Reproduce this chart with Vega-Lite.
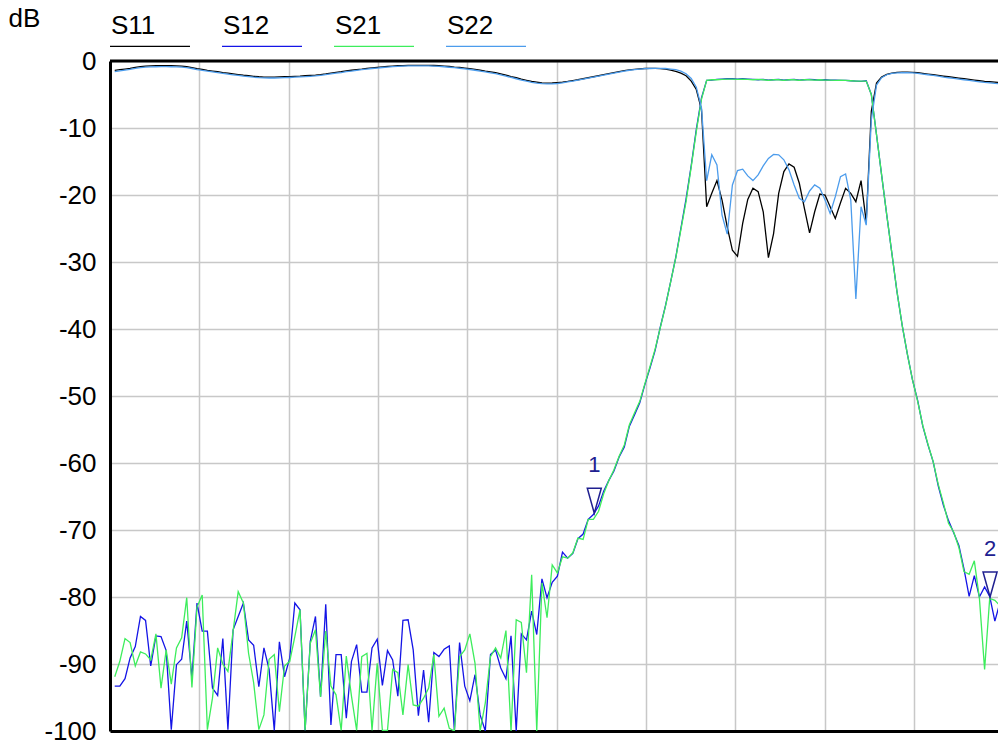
{
"$schema":"https://vega.github.io/schema/vega-lite/v6.json",
"width":888,"height":670,"autosize":{"type":"none"},
"padding":{"left":110,"top":61,"right":0,"bottom":15},
"background":"white",
"config":{"view":{"stroke":null},"font":"Liberation Sans"},
"layer":[
{"data":{"values":[
{"f":0.053,"S11":-1.4,"S12":-93.3,"S21":-91.9,"S22":-1.6},
{"f":0.110,"S11":-1.3,"S12":-93.3,"S21":-89.6,"S22":-1.48},
{"f":0.168,"S11":-1.2,"S12":-92.2,"S21":-86.2,"S22":-1.36},
{"f":0.225,"S11":-1.1,"S12":-89.1,"S21":-86.8,"S22":-1.25},
{"f":0.283,"S11":-0.95,"S12":-87.4,"S21":-90.3,"S22":-1.1},
{"f":0.341,"S11":-0.85,"S12":-82.9,"S21":-88.2,"S22":-1.0},
{"f":0.398,"S11":-0.75,"S12":-83.5,"S21":-88.5,"S22":-0.9},
{"f":0.456,"S11":-0.72,"S12":-90.3,"S21":-89.4,"S22":-0.88},
{"f":0.514,"S11":-0.7,"S12":-85.8,"S21":-85.5,"S22":-0.86},
{"f":0.571,"S11":-0.7,"S12":-85.9,"S21":-93.6,"S22":-0.85},
{"f":0.629,"S11":-0.7,"S12":-88.0,"S21":-87.9,"S22":-0.85},
{"f":0.686,"S11":-0.7,"S12":-99.8,"S21":-93.0,"S22":-0.86},
{"f":0.744,"S11":-0.72,"S12":-90.1,"S21":-87.6,"S22":-0.88},
{"f":0.802,"S11":-0.75,"S12":-89.3,"S21":-86.1,"S22":-0.92},
{"f":0.859,"S11":-0.85,"S12":-83.6,"S21":-80.1,"S22":-1.0},
{"f":0.917,"S11":-1.0,"S12":-92.1,"S21":-93.5,"S22":-1.12},
{"f":0.974,"S11":-1.15,"S12":-80.9,"S21":-81.5,"S22":-1.28},
{"f":1.032,"S11":-1.25,"S12":-85.1,"S21":-79.7,"S22":-1.4},
{"f":1.090,"S11":-1.4,"S12":-85.1,"S21":-99.8,"S22":-1.52},
{"f":1.147,"S11":-1.5,"S12":-93.6,"S21":-95.1,"S22":-1.63},
{"f":1.205,"S11":-1.6,"S12":-94.7,"S21":-87.6,"S22":-1.74},
{"f":1.263,"S11":-1.72,"S12":-86.2,"S21":-90.0,"S22":-1.86},
{"f":1.320,"S11":-1.82,"S12":-99.8,"S21":-91.1,"S22":-1.96},
{"f":1.378,"S11":-1.92,"S12":-84.9,"S21":-85.1,"S22":-2.06},
{"f":1.435,"S11":-2.02,"S12":-82.9,"S21":-79.2,"S22":-2.16},
{"f":1.493,"S11":-2.12,"S12":-80.9,"S21":-80.9,"S22":-2.26},
{"f":1.551,"S11":-2.2,"S12":-86.4,"S21":-88.4,"S22":-2.34},
{"f":1.608,"S11":-2.28,"S12":-87.2,"S21":-92.8,"S22":-2.42},
{"f":1.666,"S11":-2.35,"S12":-93.4,"S21":-99.8,"S22":-2.48},
{"f":1.723,"S11":-2.4,"S12":-87.6,"S21":-97.6,"S22":-2.52},
{"f":1.781,"S11":-2.4,"S12":-90.8,"S21":-89.3,"S22":-2.54},
{"f":1.839,"S11":-2.4,"S12":-99.9,"S21":-88.6,"S22":-2.54},
{"f":1.896,"S11":-2.38,"S12":-86.7,"S21":-97.1,"S22":-2.52},
{"f":1.954,"S11":-2.35,"S12":-91.9,"S21":-90.3,"S22":-2.49},
{"f":2.012,"S11":-2.32,"S12":-89.1,"S21":-89.6,"S22":-2.46},
{"f":2.069,"S11":-2.28,"S12":-80.9,"S21":-85.9,"S22":-2.42},
{"f":2.127,"S11":-2.25,"S12":-81.9,"S21":-81.9,"S22":-2.38},
{"f":2.184,"S11":-2.2,"S12":-99.9,"S21":-99.9,"S22":-2.34},
{"f":2.242,"S11":-2.15,"S12":-86.6,"S21":-86.9,"S22":-2.28},
{"f":2.300,"S11":-2.1,"S12":-82.9,"S21":-84.9,"S22":-2.22},
{"f":2.357,"S11":-2.02,"S12":-94.9,"S21":-94.9,"S22":-2.14},
{"f":2.415,"S11":-1.92,"S12":-81.1,"S21":-85.1,"S22":-2.04},
{"f":2.473,"S11":-1.8,"S12":-99.1,"S21":-93.3,"S22":-1.93},
{"f":2.530,"S11":-1.7,"S12":-88.6,"S21":-94.6,"S22":-1.82},
{"f":2.588,"S11":-1.6,"S12":-88.6,"S21":-99.9,"S22":-1.72},
{"f":2.645,"S11":-1.48,"S12":-98.1,"S21":-88.8,"S22":-1.6},
{"f":2.703,"S11":-1.38,"S12":-89.6,"S21":-94.8,"S22":-1.5},
{"f":2.761,"S11":-1.28,"S12":-87.1,"S21":-99.9,"S22":-1.4},
{"f":2.818,"S11":-1.2,"S12":-94.2,"S21":-88.9,"S22":-1.3},
{"f":2.876,"S11":-1.1,"S12":-94.2,"S21":-88.4,"S22":-1.2},
{"f":2.933,"S11":-1.02,"S12":-87.6,"S21":-99.9,"S22":-1.12},
{"f":2.991,"S11":-0.95,"S12":-86.3,"S21":-89.9,"S22":-1.05},
{"f":3.049,"S11":-0.88,"S12":-93.2,"S21":-99.9,"S22":-0.97},
{"f":3.106,"S11":-0.8,"S12":-88.0,"S21":-99.9,"S22":-0.9},
{"f":3.164,"S11":-0.75,"S12":-89.4,"S21":-90.8,"S22":-0.84},
{"f":3.222,"S11":-0.7,"S12":-94.8,"S21":-91.3,"S22":-0.79},
{"f":3.279,"S11":-0.68,"S12":-83.5,"S21":-97.6,"S22":-0.76},
{"f":3.337,"S11":-0.66,"S12":-83.4,"S21":-90.1,"S22":-0.74},
{"f":3.394,"S11":-0.65,"S12":-87.9,"S21":-96.1,"S22":-0.72},
{"f":3.452,"S11":-0.65,"S12":-97.7,"S21":-96.3,"S22":-0.72},
{"f":3.510,"S11":-0.65,"S12":-90.9,"S21":-95.1,"S22":-0.72},
{"f":3.567,"S11":-0.65,"S12":-98.7,"S21":-93.6,"S22":-0.73},
{"f":3.625,"S11":-0.67,"S12":-88.3,"S21":-88.6,"S22":-0.76},
{"f":3.682,"S11":-0.7,"S12":-88.9,"S21":-97.8,"S22":-0.8},
{"f":3.740,"S11":-0.75,"S12":-87.8,"S21":-96.6,"S22":-0.86},
{"f":3.798,"S11":-0.82,"S12":-87.3,"S21":-99.6,"S22":-0.93},
{"f":3.855,"S11":-0.9,"S12":-100,"S21":-100,"S22":-1.0},
{"f":3.913,"S11":-0.95,"S12":-86.8,"S21":-88.9,"S22":-1.08},
{"f":3.971,"S11":-1.05,"S12":-93.3,"S21":-87.9,"S22":-1.17},
{"f":4.028,"S11":-1.15,"S12":-95.5,"S21":-85.5,"S22":-1.27},
{"f":4.086,"S11":-1.25,"S12":-91.6,"S21":-89.9,"S22":-1.38},
{"f":4.143,"S11":-1.35,"S12":-97.6,"S21":-100,"S22":-1.5},
{"f":4.201,"S11":-1.5,"S12":-100,"S21":-95.8,"S22":-1.63},
{"f":4.259,"S11":-1.62,"S12":-88.6,"S21":-88.9,"S22":-1.76},
{"f":4.316,"S11":-1.75,"S12":-87.9,"S21":-87.6,"S22":-1.9},
{"f":4.374,"S11":-1.92,"S12":-90.6,"S21":-89.1,"S22":-2.06},
{"f":4.432,"S11":-2.12,"S12":-92.2,"S21":-85.0,"S22":-2.26},
{"f":4.489,"S11":-2.32,"S12":-85.8,"S21":-100,"S22":-2.46},
{"f":4.547,"S11":-2.5,"S12":-100,"S21":-83.4,"S22":-2.65},
{"f":4.604,"S11":-2.7,"S12":-85.5,"S21":-83.8,"S22":-2.84},
{"f":4.662,"S11":-2.88,"S12":-86.4,"S21":-91.3,"S22":-3.02},
{"f":4.720,"S11":-3.05,"S12":-82.1,"S21":-76.7,"S22":-3.18},
{"f":4.777,"S11":-3.15,"S12":-85.6,"S21":-100,"S22":-3.3},
{"f":4.835,"S11":-3.25,"S12":-77.3,"S21":-77.9,"S22":-3.38},
{"f":4.892,"S11":-3.3,"S12":-80.1,"S21":-83.1,"S22":-3.42},
{"f":4.950,"S11":-3.28,"S12":-77.8,"S21":-75.2,"S22":-3.42},
{"f":5.008,"S11":-3.22,"S12":-76.9,"S21":-76.4,"S22":-3.36},
{"f":5.065,"S11":-3.15,"S12":-73.3,"S21":-74.0,"S22":-3.25},
{"f":5.123,"S11":-3.05,"S12":-74.2,"S21":-74.2,"S22":-3.12},
{"f":5.181,"S11":-2.92,"S12":-73.5,"S21":-73.4,"S22":-3.0},
{"f":5.238,"S11":-2.8,"S12":-71.3,"S21":-71.2,"S22":-2.85},
{"f":5.296,"S11":-2.65,"S12":-70.6,"S21":-71.4,"S22":-2.7},
{"f":5.353,"S11":-2.5,"S12":-68.4,"S21":-68.4,"S22":-2.55},
{"f":5.411,"S11":-2.35,"S12":-67.7,"S21":-68.4,"S22":-2.4},
{"f":5.469,"S11":-2.2,"S12":-66.4,"S21":-67.2,"S22":-2.25},
{"f":5.526,"S11":-2.05,"S12":-64.2,"S21":-64.6,"S22":-2.1},
{"f":5.584,"S11":-1.9,"S12":-62.6,"S21":-62.6,"S22":-1.95},
{"f":5.641,"S11":-1.75,"S12":-61.2,"S21":-61.0,"S22":-1.8},
{"f":5.699,"S11":-1.6,"S12":-59.1,"S21":-59.0,"S22":-1.65},
{"f":5.757,"S11":-1.45,"S12":-57.6,"S21":-57.3,"S22":-1.5},
{"f":5.814,"S11":-1.32,"S12":-54.5,"S21":-54.3,"S22":-1.38},
{"f":5.872,"S11":-1.25,"S12":-52.8,"S21":-52.5,"S22":-1.28},
{"f":5.930,"S11":-1.18,"S12":-51.0,"S21":-50.8,"S22":-1.2},
{"f":5.987,"S11":-1.12,"S12":-48.3,"S21":-48.2,"S22":-1.15},
{"f":6.045,"S11":-1.1,"S12":-45.8,"S21":-45.6,"S22":-1.12},
{"f":6.102,"S11":-1.1,"S12":-43.2,"S21":-43.0,"S22":-1.1},
{"f":6.160,"S11":-1.15,"S12":-39.7,"S21":-39.8,"S22":-1.1},
{"f":6.218,"S11":-1.22,"S12":-36.5,"S21":-36.6,"S22":-1.12},
{"f":6.275,"S11":-1.35,"S12":-33.0,"S21":-33.0,"S22":-1.2},
{"f":6.333,"S11":-1.55,"S12":-29.3,"S21":-29.4,"S22":-1.3},
{"f":6.390,"S11":-1.8,"S12":-25.0,"S21":-25.2,"S22":-1.5},
{"f":6.448,"S11":-2.2,"S12":-20.6,"S21":-21.0,"S22":-1.9},
{"f":6.506,"S11":-3.0,"S12":-15.6,"S21":-15.8,"S22":-2.6},
{"f":6.563,"S11":-4.25,"S12":-10.2,"S21":-10.5,"S22":-3.9},
{"f":6.621,"S11":-7.25,"S12":-5.5,"S21":-5.7,"S22":-7.0},
{"f":6.679,"S11":-21.75,"S12":-2.9,"S21":-2.9,"S22":-17.85},
{"f":6.736,"S11":-19.75,"S12":-2.85,"S21":-2.8,"S22":-14.0},
{"f":6.794,"S11":-17.85,"S12":-2.75,"S21":-2.8,"S22":-15.5},
{"f":6.851,"S11":-20.75,"S12":-2.7,"S21":-2.75,"S22":-23.0},
{"f":6.909,"S11":-24.75,"S12":-2.65,"S21":-2.7,"S22":-25.85},
{"f":6.967,"S11":-28.25,"S12":-2.65,"S21":-2.7,"S22":-18.5},
{"f":7.024,"S11":-29.15,"S12":-2.7,"S21":-2.75,"S22":-16.35},
{"f":7.082,"S11":-24.25,"S12":-2.65,"S21":-2.7,"S22":-16.15},
{"f":7.139,"S11":-20.65,"S12":-2.7,"S21":-2.75,"S22":-17.15},
{"f":7.197,"S11":-19.0,"S12":-2.75,"S21":-2.8,"S22":-17.85},
{"f":7.255,"S11":-19.5,"S12":-2.8,"S21":-2.75,"S22":-17.0},
{"f":7.312,"S11":-22.5,"S12":-2.75,"S21":-2.8,"S22":-15.65},
{"f":7.370,"S11":-29.35,"S12":-2.85,"S21":-2.9,"S22":-14.55},
{"f":7.428,"S11":-25.75,"S12":-2.8,"S21":-2.8,"S22":-13.95},
{"f":7.485,"S11":-19.75,"S12":-2.75,"S21":-2.8,"S22":-14.0},
{"f":7.543,"S11":-16.5,"S12":-2.85,"S21":-2.9,"S22":-14.75},
{"f":7.600,"S11":-15.35,"S12":-2.8,"S21":-2.8,"S22":-16.25},
{"f":7.658,"S11":-15.85,"S12":-2.75,"S21":-2.8,"S22":-18.5},
{"f":7.716,"S11":-18.25,"S12":-2.85,"S21":-2.9,"S22":-20.5},
{"f":7.773,"S11":-22.0,"S12":-2.8,"S21":-2.8,"S22":-21.0},
{"f":7.831,"S11":-25.65,"S12":-2.75,"S21":-2.8,"S22":-19.4},
{"f":7.888,"S11":-22.5,"S12":-2.8,"S21":-2.85,"S22":-18.5},
{"f":7.946,"S11":-19.85,"S12":-2.85,"S21":-2.8,"S22":-19.0},
{"f":8.004,"S11":-20.0,"S12":-2.8,"S21":-2.85,"S22":-20.75},
{"f":8.061,"S11":-21.75,"S12":-2.85,"S21":-2.85,"S22":-22.75},
{"f":8.119,"S11":-23.5,"S12":-2.85,"S21":-2.9,"S22":-20.25},
{"f":8.177,"S11":-21.15,"S12":-2.9,"S21":-2.85,"S22":-17.25},
{"f":8.234,"S11":-19.0,"S12":-2.9,"S21":-2.9,"S22":-16.85},
{"f":8.292,"S11":-19.75,"S12":-2.95,"S21":-2.95,"S22":-20.75},
{"f":8.349,"S11":-21.0,"S12":-3.0,"S21":-3.0,"S22":-35.5},
{"f":8.407,"S11":-17.85,"S12":-3.05,"S21":-3.0,"S22":-21.75},
{"f":8.465,"S11":-24.0,"S12":-2.95,"S21":-3.0,"S22":-24.5},
{"f":8.522,"S11":-7.5,"S12":-5.0,"S21":-5.0,"S22":-8.75},
{"f":8.580,"S11":-3.3,"S12":-11.0,"S21":-11.0,"S22":-3.6},
{"f":8.637,"S11":-2.4,"S12":-17.0,"S21":-17.0,"S22":-2.5},
{"f":8.695,"S11":-2.0,"S12":-23.0,"S21":-23.0,"S22":-2.05},
{"f":8.753,"S11":-1.8,"S12":-28.8,"S21":-28.8,"S22":-1.85},
{"f":8.810,"S11":-1.7,"S12":-34.5,"S21":-34.5,"S22":-1.78},
{"f":8.868,"S11":-1.68,"S12":-39.5,"S21":-39.5,"S22":-1.75},
{"f":8.926,"S11":-1.68,"S12":-43.8,"S21":-43.8,"S22":-1.75},
{"f":8.983,"S11":-1.7,"S12":-47.6,"S21":-47.6,"S22":-1.78},
{"f":9.041,"S11":-1.75,"S12":-50.7,"S21":-50.8,"S22":-1.85},
{"f":9.098,"S11":-1.85,"S12":-54.5,"S21":-54.4,"S22":-1.95},
{"f":9.156,"S11":-1.95,"S12":-57.3,"S21":-57.2,"S22":-2.05},
{"f":9.214,"S11":-2.05,"S12":-59.8,"S21":-59.8,"S22":-2.15},
{"f":9.271,"S11":-2.15,"S12":-63.4,"S21":-63.2,"S22":-2.27},
{"f":9.329,"S11":-2.25,"S12":-66.3,"S21":-66.0,"S22":-2.4},
{"f":9.386,"S11":-2.35,"S12":-68.6,"S21":-69.0,"S22":-2.5},
{"f":9.444,"S11":-2.45,"S12":-70.4,"S21":-70.3,"S22":-2.6},
{"f":9.502,"S11":-2.55,"S12":-72.3,"S21":-72.6,"S22":-2.7},
{"f":9.559,"S11":-2.65,"S12":-75.8,"S21":-76.2,"S22":-2.8},
{"f":9.617,"S11":-2.75,"S12":-79.9,"S21":-76.6,"S22":-2.9},
{"f":9.675,"S11":-2.85,"S12":-76.8,"S21":-74.6,"S22":-3.0},
{"f":9.732,"S11":-2.95,"S12":-80.0,"S21":-80.2,"S22":-3.1},
{"f":9.790,"S11":-3.05,"S12":-78.5,"S21":-90.8,"S22":-3.2},
{"f":9.847,"S11":-3.1,"S12":-79.9,"S21":-80.2,"S22":-3.28},
{"f":9.905,"S11":-3.15,"S12":-83.6,"S21":-80.5,"S22":-3.35},
{"f":9.963,"S11":-3.2,"S12":-80.8,"S21":-81.3,"S22":-3.4}
]},
"transform":[{"fold":["S11","S12","S21","S22"],"as":["s","db"]}],
"mark":{"type":"line","strokeWidth":1.3,"clip":true},
"encoding":{
"x":{"field":"f","type":"quantitative","scale":{"domain":[0,9.94],"nice":false,"zero":false},
"axis":{"title":null,"labels":false,"ticks":false,"values":[1,2,3,4,5,6,7,8,9],"grid":true,"gridColor":"#c8c8c8","gridWidth":1.5,"domainColor":"#000000","domainWidth":3}},
"y":{"field":"db","type":"quantitative","scale":{"domain":[-100,0],"nice":false,"zero":false},
"axis":{"title":"dB","titleAngle":0,"titleAlign":"left","titleBaseline":"middle","titleX":-102,"titleY":-43,"titleFontSize":26,"titleFontWeight":"normal","titleColor":"#000000","titleFont":"Liberation Sans",
"values":[0,-10,-20,-30,-40,-50,-60,-70,-80,-90,-100],"labelExpr":"'' + datum.value","labelFontSize":26,"labelFont":"Liberation Sans","labelColor":"#000000","labelPadding":14,"ticks":false,"grid":true,"gridColor":"#c8c8c8","gridWidth":1.5,"domainColor":"#000000","domainWidth":3}},
"color":{"field":"s","type":"nominal","scale":{"domain":["S11","S12","S21","S22"],"range":["#000000","#1414e6","#3ded5c","#4c9cec"]},
"legend":{"orient":"none","legendX":-1,"legendY":-68,"direction":"horizontal","columns":4,"title":null,"symbolType":"M-1,0.3H1","symbolSize":6400,"symbolStrokeWidth":1.2,"labelOffset":-80,"labelFontSize":26,"labelFont":"Liberation Sans","labelColor":"#000000","labelBaseline":"alphabetic","columnPadding":26,"labelLimit":200}}
}},
{"data":{"values":[{"db":0}]},
"mark":{"type":"rule","strokeWidth":3,"color":"#000000"},
"encoding":{"y":{"field":"db","type":"quantitative"}}},
{"data":{"values":[{"f":5.421,"db":-67.5,"m":"1"},{"f":9.851,"db":-80.0,"m":"2"}]},
"layer":[
{"mark":{"type":"point","shape":"M-1,-3.57L1,-3.57L0,0Z","size":196,"filled":false,"stroke":"#202090","strokeWidth":1.5,"opacity":1},
"encoding":{"x":{"field":"f","type":"quantitative"},"y":{"field":"db","type":"quantitative"}}},
{"mark":{"type":"text","dy":-41,"baseline":"alphabetic","fontSize":22,"color":"#202090","font":"Liberation Sans"},
"encoding":{"x":{"field":"f","type":"quantitative"},"y":{"field":"db","type":"quantitative"},"text":{"field":"m"}}}
]}
]
}
